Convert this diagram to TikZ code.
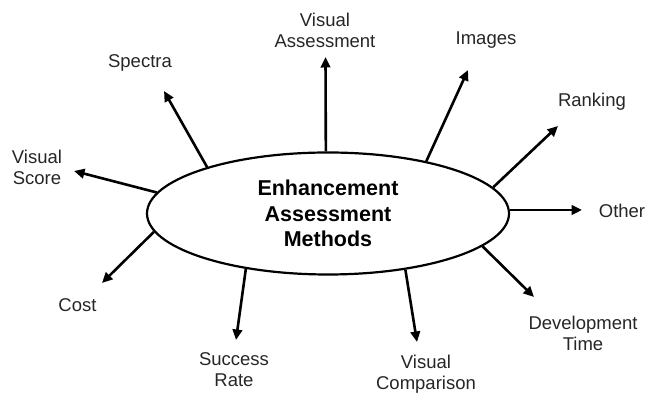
\documentclass[tikz,border=0pt]{standalone}
\usepackage{fontspec}
\setmainfont{Liberation Sans}
\usetikzlibrary{shapes.geometric,arrows.meta}
\begin{document}
\begin{tikzpicture}[x=1pt,y=1pt,
  lbl/.style={font=\fontsize{18.5}{21}\selectfont, align=center, inner sep=0pt, text=black!85},
  arr/.style={line width=2.6pt, -{Triangle[length=10.5pt,width=9.5pt]}}]
\useasboundingbox (0,0) rectangle (648,395);
\node[ellipse, draw, line width=2.2pt, minimum width=362pt, minimum height=122pt, inner sep=0pt,
  align=center, font=\bfseries\fontsize{21.5}{25.5}\selectfont] (E) at (328,181.5)
  {Enhancement\\Assessment\\Methods};
% labels
\node[lbl] (va) at (325,364.5) {Visual\\Assessment};
\node[lbl] (im) at (486,355) {Images};
\node[lbl] (rk) at (592,293) {Ranking};
\node[lbl] (ot) at (622,184) {Other};
\node[lbl] (dt) at (583,62) {Development\\Time};
\node[lbl] (vc) at (426,21) {Visual\\Comparison};
\node[lbl] (sr) at (234,25.5) {Success\\Rate};
\node[lbl] (co) at (77.5,90) {Cost};
\node[lbl] (vs) at (37,227.5) {Visual\\Score};
\node[lbl] (sp) at (140,332) {Spectra};
% arrow tips
\coordinate (tva) at (325.5,338);
\coordinate (tim) at (468,325);
\coordinate (trk) at (558,269);
\coordinate (tot) at (582,185);
\coordinate (tdt) at (534,98);
\coordinate (tvc) at (417,53);
\coordinate (tsr) at (236,55);
\coordinate (tco) at (102,112);
\coordinate (tvs) at (74,224);
\coordinate (tsp) at (164,304);
% arrows
\draw[arr] (E.92.3) -- (tva);
\draw[arr] (E.28.9) -- (tim);
\draw[arr] (E.9.5) -- (trk);
\draw[arr] (E.east |- tot) -- (tot);
\draw[arr] (E.-12.4) -- (tdt);
\draw[arr] (E.-36.9) -- (tvc);
\draw[arr] (E.214.8) -- (tsr);
\draw[arr] (E.186.7) -- (tco);
\draw[arr] (E.173.4) -- (tvs);
\draw[arr] (E.159.6) -- (tsp);
\end{tikzpicture}
\end{document}
